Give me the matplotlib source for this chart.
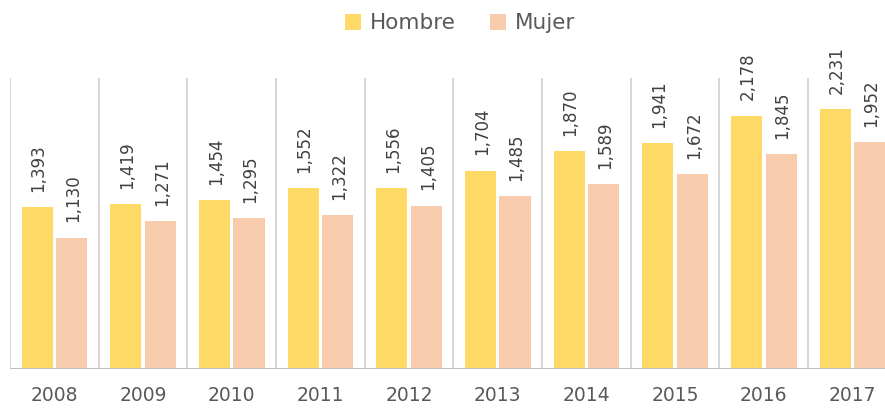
import numpy as np
import matplotlib.pyplot as plt

years = ["2008", "2009", "2010", "2011", "2012", "2013", "2014", "2015", "2016", "2017"]
hombre = [1393, 1419, 1454, 1552, 1556, 1704, 1870, 1941, 2178, 2231]
mujer = [1130, 1271, 1295, 1322, 1405, 1485, 1589, 1672, 1845, 1952]

c_h = "#FFD966"
c_m = "#F8CBAD"

fig = plt.figure(figsize=(8.85, 4.11), dpi=100)
# the chart runs slightly past the right edge of the picture
ax = fig.add_axes([0.0113, 0.102, 1.002, 0.708])

x = np.arange(len(years))
w = 0.35
off = 0.195
b1 = ax.bar(x - off, hombre, w, color=c_h, label="Hombre")
b2 = ax.bar(x + off, mujer, w, color=c_m, label="Mujer")

for bars, vals in ((b1, hombre), (b2, mujer)):
    for b, v in zip(bars, vals):
        ax.annotate(f"{v:,}", (b.get_x() + b.get_width() / 2, v),
                    xytext=(1, 11), textcoords="offset points",
                    rotation=90, ha="center", va="bottom",
                    fontsize=12, color="#404040")

for bnd in np.arange(-0.5, len(years), 1.0):
    ax.axvline(bnd, color="#cfcfcf", lw=1.2, zorder=0)
ax.axhline(0, color="#bfbfbf", lw=1.5, zorder=3)

ax.set_xlim(-0.5, len(years) - 0.5)
ax.set_ylim(0, 2500)
ax.set_xticks(x)
ax.set_xticklabels(years, fontsize=13.5, color="#595959")
ax.tick_params(axis="x", length=0, pad=12)
ax.set_yticks([])
for s in ax.spines.values():
    s.set_visible(False)

fig.legend(loc="upper center", bbox_to_anchor=(460 / 885, 1.015), ncol=2,
           frameon=False, fontsize=15.5, labelcolor="#595959",
           handlelength=0.75, handleheight=0.75, handletextpad=0.4,
           columnspacing=1.6)

fig.savefig("out.png", dpi=100)
